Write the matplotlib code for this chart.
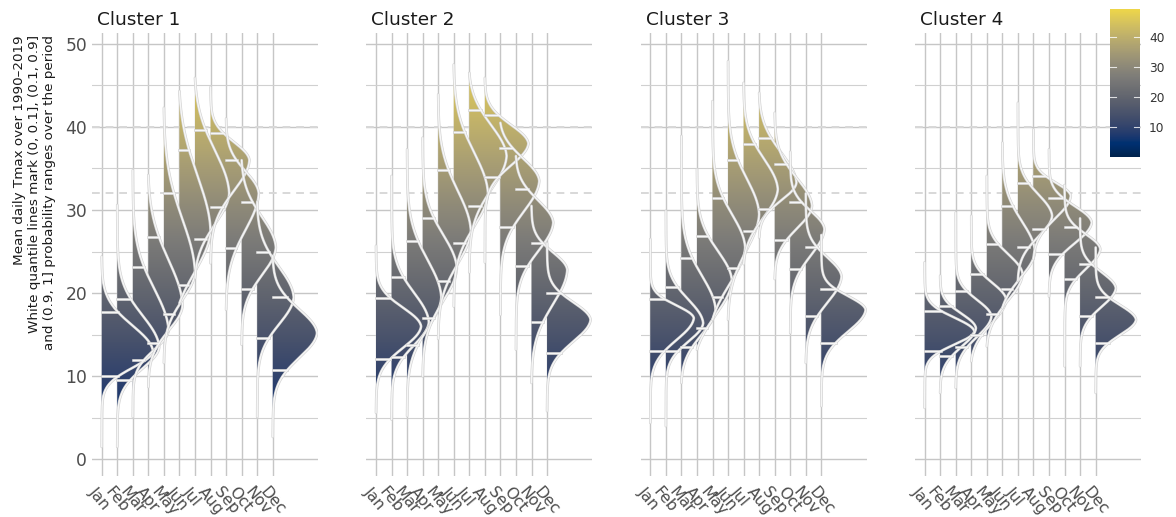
import numpy as np
import matplotlib
matplotlib.use("Agg")
import matplotlib.pyplot as plt
from matplotlib.patches import Polygon
from matplotlib.colors import Normalize
from matplotlib.transforms import ScaledTranslation

# ---------------- data ----------------
months = ["Jan", "Feb", "Mar", "Apr", "May", "Jun",
          "Jul", "Aug", "Sep", "Oct", "Nov", "Dec"]
clusters = ["Cluster 1", "Cluster 2", "Cluster 3", "Cluster 4"]

# lowest value, 10% quantile, mode, 90% quantile, highest value (deg C), ridge peak height (month units)
c1_lo   = [1.5, 1.5, 5.1, 8.7, 11.6, 18.8, 21.8, 23.6, 18.0, 13.8, 5.1, 2.7]
c1_q10  = [10.0, 9.6, 12.0, 14.0, 17.5, 21.0, 26.5, 30.4, 25.4, 20.5, 14.6, 10.7]
c1_mode = [13.0, 13.5, 15.5, 18.5, 22.5, 27.5, 32.0, 36.0, 32.0, 25.5, 19.5, 15.2]
c1_q90  = [17.7, 19.3, 23.1, 26.7, 32.1, 37.2, 39.6, 39.3, 36.0, 31.0, 25.0, 19.5]
c1_hi   = [24.4, 30.6, 34.8, 34.2, 42.3, 44.3, 45.9, 44.8, 41.0, 36.0, 31.0, 24.5]
c1_h    = [3.3, 2.7, 2.3, 2.2, 2.0, 2.0, 2.2, 2.5, 2.1, 2.2, 2.35, 2.85]

c2_lo   = [5.6, 4.8, 5.2, 10.0, 14.5, 18.4, 22.5, 23.7, 17.4, 13.2, 9.2, 5.8]
c2_q10  = [12.1, 12.3, 13.8, 17.0, 21.5, 26.0, 30.5, 34.0, 27.9, 23.3, 16.5, 12.8]
c2_mode = [16.0, 16.5, 19.5, 23.0, 27.5, 32.0, 36.5, 38.0, 33.5, 28.5, 22.8, 16.8]
c2_q90  = [19.4, 21.9, 26.3, 29.1, 34.8, 39.4, 42.0, 41.4, 37.5, 32.5, 26.0, 20.0]
c2_hi   = [25.7, 34.1, 37.3, 38.7, 43.9, 47.5, 46.5, 45.9, 40.5, 36.5, 30.5, 26.0]
c2_h    = [2.9, 2.4, 2.2, 2.2, 2.1, 2.2, 2.4, 2.8, 2.5, 2.4, 2.3, 2.8]

c3_lo   = [4.4, 4.0, 9.2, 13.2, 16.8, 16.8, 23.5, 26.7, 21.7, 15.2, 11.6, 6.4]
c3_q10  = [13.0, 13.0, 13.5, 15.8, 19.5, 23.0, 27.5, 30.1, 26.4, 22.9, 17.2, 14.0]
c3_mode = [17.0, 16.4, 18.0, 21.5, 25.5, 29.5, 32.5, 33.3, 30.5, 27.7, 22.0, 18.0]
c3_q90  = [19.3, 20.7, 24.2, 26.9, 31.5, 36.0, 38.0, 38.7, 35.5, 31.0, 25.5, 20.5]
c3_hi   = [26.5, 29.9, 38.9, 34.9, 43.1, 47.9, 45.3, 44.1, 41.7, 37.0, 32.0, 27.0]
c3_h    = [2.8, 2.4, 2.2, 2.25, 2.1, 2.0, 2.2, 2.4, 2.4, 2.2, 2.3, 2.85]

c4_lo   = [6.2, 8.0, 8.6, 11.8, 13.6, 18.2, 21.5, 24.1, 19.6, 11.2, 11.2, 8.0]
c4_q10  = [13.0, 12.4, 13.5, 15.0, 17.5, 20.5, 25.5, 27.7, 24.7, 21.7, 17.2, 14.0]
c4_mode = [15.4, 15.8, 17.2, 19.2, 22.3, 25.0, 29.3, 31.7, 28.5, 25.3, 20.6, 16.8]
c4_q90  = [17.9, 18.4, 20.2, 22.3, 25.9, 30.5, 33.2, 34.1, 31.5, 28.0, 23.5, 19.5]
c4_hi   = [23.7, 22.1, 29.7, 29.3, 34.1, 38.1, 42.9, 39.7, 37.3, 33.0, 29.0, 25.5]
c4_h    = [3.2, 2.3, 2.3, 2.25, 2.3, 2.1, 2.2, 2.4, 2.75, 2.3, 2.3, 2.6]

ref_lines = [32, 40]
cbar_ticks = [10, 20, 30, 40]
y_label = ("Mean daily Tmax over 1990\u20132019\n"
           "White quantile lines mark (0, 0.1], (0.1, 0.9]\n"
           "and (0.9, 1] probability ranges over the period")

stats = [
    (c1_lo, c1_q10, c1_mode, c1_q90, c1_hi, c1_h),
    (c2_lo, c2_q10, c2_mode, c2_q90, c2_hi, c2_h),
    (c3_lo, c3_q10, c3_mode, c3_q90, c3_hi, c3_h),
    (c4_lo, c4_q10, c4_mode, c4_q90, c4_hi, c4_h),
]

# ---------------- layout ----------------
W, H = 1176, 517
fig = plt.figure(figsize=(W / 100, H / 100), dpi=100)
panel_left_px = [92, 366.3, 640.6, 914.9]
panel_w_px = 226
top_px, bot_px = 33, 476
XLIM = (0.376, 14.91)
YLIM = (-2.0, 51.3)
CB_MIN, CB_MAX = 0.3, 49.0
cmap = plt.get_cmap("cividis")
norm = Normalize(0.3, 52.5)

GRID_C = "#c6c6c6"
LINE_OUT = "#d2d2d2"
LINE_IN = "#f6f6f6"


def ridge_profile(lo, q10, m, q90, hi, h, n=400):
    y = np.linspace(lo, hi, n)
    sL = (m - q10) / 1.5
    sR = (q90 - m) / 1.5
    s = np.where(y < m, sL, sR)
    z = (y - m) / s
    f = 0.93 * np.exp(-0.5 * z ** 2) + 0.07 * np.exp(-np.abs(z) / 1.2)
    span = np.where(y < m, m - lo, hi - m)
    taper = 1 - np.clip(np.abs(y - m) / span, 0, 1) ** 6
    return y, h * f * taper


def width_at(yv, y, f):
    return float(np.interp(yv, y, f))


grad = np.linspace(YLIM[0], YLIM[1], 512)[:, None]

for ci, (name, st) in enumerate(zip(clusters, stats)):
    left = panel_left_px[ci] / W
    ax = fig.add_axes([left, 1 - bot_px / H, panel_w_px / W, (bot_px - top_px) / H])
    ax.set_xlim(*XLIM)
    ax.set_ylim(*YLIM)
    for sp in ax.spines.values():
        sp.set_visible(False)

    # grid
    ax.set_xticks(np.arange(1, 13))
    ax.set_xticklabels(months, rotation=-50, ha="left", va="top",
                       rotation_mode="anchor", fontsize=11.3, color="#4d4d4d")
    ax.set_yticks(np.arange(0, 51, 10))
    ax.set_yticks(np.arange(5, 50, 10), minor=True)
    ax.grid(True, which="major", color=GRID_C, lw=1.0, zorder=0)
    ax.grid(True, which="minor", axis="y", color="#d0d0d0", lw=0.8, zorder=0)
    ax.tick_params(axis="both", which="both", length=0)
    ax.tick_params(axis="x", pad=6)
    ax.tick_params(axis="y", pad=3.5, labelsize=12.3, labelcolor="#4d4d4d")
    if ci > 0:
        ax.tick_params(axis="y", labelleft=False)
    ax.set_axisbelow(True)
    off = ScaledTranslation(-0.04, 0, fig.dpi_scale_trans)
    for lbl in ax.get_xticklabels():
        lbl.set_transform(lbl.get_transform() + off)

    for r in ref_lines:
        ax.axhline(r, color="#d8d8d8", lw=1.4, ls=(0, (4, 3)), zorder=1)

    lo, q10, md, q90, hi, hh = st
    profiles = []
    for k in range(12):
        base = k + 1
        y, f = ridge_profile(lo[k], q10[k], md[k], q90[k], hi[k], hh[k])
        profiles.append((base, y, f))
        xy = np.column_stack([np.concatenate([base + f, [base, base]]),
                              np.concatenate([y, [y[-1], y[0]]])])
        poly = Polygon(xy, closed=True, transform=ax.transData)
        im = ax.imshow(grad, extent=[XLIM[0], XLIM[1], YLIM[0], YLIM[1]],
                       origin="lower", cmap=cmap, norm=norm, aspect="auto",
                       interpolation="bilinear", zorder=2)
        im.set_clip_path(poly)

    for k, (base, y, f) in enumerate(profiles):
        for c, lw in ((LINE_OUT, 1.9), (LINE_IN, 1.0)):
            ax.plot(base + f, y, color=c, lw=lw, zorder=3, solid_capstyle="round")
            for qv in (q10[k], q90[k]):
                wq = width_at(qv, y, f)
                ax.plot([base, base + wq], [qv, qv], color=c, lw=lw, zorder=3)

    ax.set_xlim(*XLIM)
    ax.set_ylim(*YLIM)

    fig.text((panel_left_px[ci] + 5) / W, 1 - 25 / H, name, fontsize=13.3,
             ha="left", va="baseline", color="#1a1a1a")

fig.text(35 / W, 1 - 35 / H, y_label, rotation=90, ha="center", va="top",
         multialignment="right", fontsize=9.7, linespacing=1.2, color="#1a1a1a")

# colour bar
cax = fig.add_axes([1110 / W, 1 - 156.7 / H, 30 / W, 147.4 / H])
cax.imshow(np.linspace(CB_MIN, CB_MAX, 256)[:, None], extent=[0, 1, CB_MIN, CB_MAX],
           origin="lower", cmap=cmap, norm=norm, aspect="auto")
cax.set_xlim(0, 1)
cax.set_ylim(CB_MIN, CB_MAX)
for v in cbar_ticks:
    cax.plot([0, 0.2], [v, v], color="white", lw=0.8, alpha=0.8)
    cax.plot([0.8, 1], [v, v], color="white", lw=0.8, alpha=0.8)
for sp in cax.spines.values():
    sp.set_visible(False)
cax.set_xticks([])
cax.yaxis.tick_right()
cax.set_yticks(cbar_ticks)
cax.tick_params(axis="y", length=0, pad=6.5, labelsize=8.8, labelcolor="#333333")

fig.savefig("out.png", dpi=100)
